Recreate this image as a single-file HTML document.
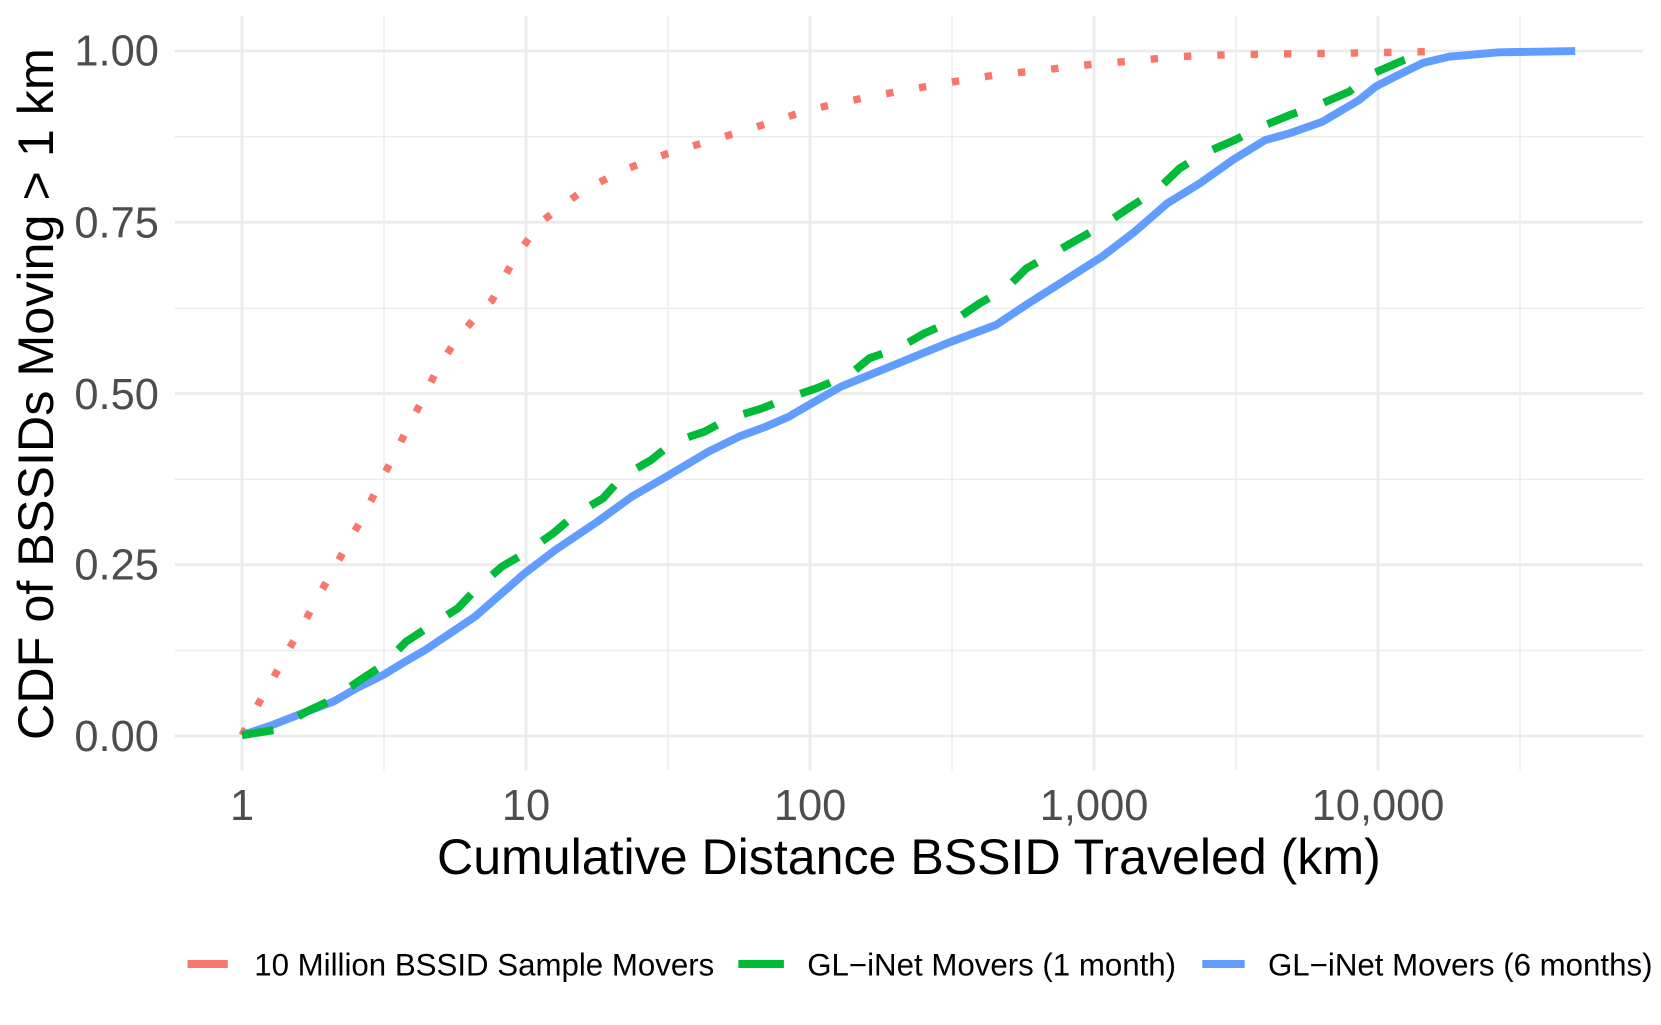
<!DOCTYPE html>
<html><head><meta charset="utf-8"><style>html,body{margin:0;padding:0;background:#fff}svg{display:block}</style></head>
<body>
<svg width="1661" height="1025" viewBox="0 0 1568 967.6" xmlns="http://www.w3.org/2000/svg" font-family="Liberation Sans, sans-serif">
<rect width="1568" height="967.6" fill="#fff"/>
<g stroke="#ebebeb" stroke-width="1.3">
<line x1="165" x2="1551" y1="129" y2="129"/><line x1="165" x2="1551" y1="291" y2="291"/>
<line x1="165" x2="1551" y1="452.5" y2="452.5"/><line x1="165" x2="1551" y1="614" y2="614"/>
<line x1="362.5" x2="362.5" y1="15" y2="727"/><line x1="630.6" x2="630.6" y1="15" y2="727"/>
<line x1="898.7" x2="898.7" y1="15" y2="727"/><line x1="1166.8" x2="1166.8" y1="15" y2="727"/>
<line x1="1434.9" x2="1434.9" y1="15" y2="727"/>
</g>
<g stroke="#ebebeb" stroke-width="2.6">
<line x1="165" x2="1551" y1="48.1" y2="48.1"/><line x1="165" x2="1551" y1="209.8" y2="209.8"/>
<line x1="165" x2="1551" y1="371.5" y2="371.5"/><line x1="165" x2="1551" y1="533.1" y2="533.1"/>
<line x1="165" x2="1551" y1="694.8" y2="694.8"/>
<line x1="228.5" x2="228.5" y1="15" y2="727"/><line x1="496.6" x2="496.6" y1="15" y2="727"/>
<line x1="764.7" x2="764.7" y1="15" y2="727"/><line x1="1032.8" x2="1032.8" y1="15" y2="727"/>
<line x1="1300.9" x2="1300.9" y1="15" y2="727"/>
</g>
<g fill="#4d4d4d" font-size="41" text-anchor="end">
<text x="150" y="62">1.00</text><text x="150" y="224">0.75</text><text x="150" y="386">0.50</text>
<text x="150" y="547">0.25</text><text x="150" y="709">0.00</text>
</g>
<g fill="#4d4d4d" font-size="41" text-anchor="middle">
<text x="228.5" y="774">1</text><text x="496.6" y="774">10</text><text x="764.7" y="774">100</text>
<text x="1032.8" y="774">1,000</text><text x="1300.9" y="774">10,000</text>
</g>
<text x="858" y="825" font-size="47.3" text-anchor="middle" fill="#000">Cumulative Distance BSSID Traveled (km)</text>
<text transform="translate(50,372) rotate(-90)" font-size="47.5" text-anchor="middle" fill="#000">CDF of BSSIDs Moving &gt; 1 km</text>
<g fill="none" stroke-linejoin="round">
<polyline stroke="#f8766d" stroke-width="7" stroke-dasharray="7 24.5" points="228.5,694 244.2,663.9 258.7,638.8 273.1,612 287.6,586.9 302,560.1 316.4,535 331,508.2 345.4,483 358.1,456.2 372.5,429.5 385.2,402.8 399.6,376 412.3,349.3 428.5,324.1 446.5,302.1 464.7,283.2 485,245 510,210 550,180 590,160 630,145 680,130 720,118 763,103.8 793.7,97 824.6,90.6 855.4,85 886.2,79.6 917,74.3 947.9,69.6 978.7,67 1009.5,63 1040.3,59.8 1073.1,57.3 1103.9,54.1 1136.7,52.2 1167.5,51.6 1200.2,51 1233,50.7 1263.9,50.3 1294.6,49.8 1327.4,49.1 1362,48.5"/>
<polyline stroke="#619cff" stroke-width="7.5" points="228.5,694 256.9,684.5 289.3,671.8 314.6,662.4 336.4,649.8 361.7,637.2 379.7,626.2 401.4,613.6 448.3,582.2 477.2,557 495.3,541.2 524.2,519.2 564,492.4 596.4,468.9 629,450 668.7,426.4 697.6,412.2 722.9,402.8 744.6,393.4 766.3,380.7 793.7,365 843.9,344.6 897.8,322.6 940.2,306.8 971,286.3 1005.7,264.3 1040.3,242.3 1071.2,218.7 1102,191.9 1132.8,173 1163.7,151 1194.5,132.2 1217.6,125.8 1248.4,114.9 1283.1,94.4 1298.5,81.8 1313.9,73.9 1343,59.5 1368,53.5 1415,49.4 1487,48.2"/>
<polyline stroke="#00ba38" stroke-width="7.5" stroke-dasharray="30 27" points="228.5,694 258.7,689.2 289.3,671.8 312.8,660.8 339.9,642 361.7,627.8 383.3,605.8 405,591.6 432.1,574.3 450.1,555.4 473.6,535 495.3,522.3 522.4,503.4 542.2,486.2 569.3,470.4 587.5,450 614.6,434.3 636.2,417 665.1,407.5 688.6,394.9 719.3,385.5 742.8,376 770.6,366.6 801.5,354 820.7,338.2 847.7,328.8 872.8,314.6 901.6,302.1 924.8,286.3 949.8,272.2 969,253.3 994.2,239.1 1019.2,225 1044.2,210.8 1067.3,195.1 1092.3,179.4 1113.6,158.9 1136.7,144.7 1165.6,132.2 1190.6,119.6 1217.6,108.6 1244.6,99.1 1273.5,86.6 1296.6,69.2 1325.5,56.6 1350,47.5"/>
</g>
<line x1="177" x2="215" y1="910" y2="910" stroke="#f8766d" stroke-width="7.5"/>
<line x1="697" x2="740" y1="910" y2="910" stroke="#00ba38" stroke-width="7.5"/>
<line x1="1135" x2="1175" y1="910" y2="910" stroke="#619cff" stroke-width="7.5"/>
<g font-size="29.5" fill="#000">
<text x="240" y="921">10 Million BSSID Sample Movers</text>
<text x="762" y="921">GL−iNet Movers (1 month)</text>
<text x="1197" y="921">GL−iNet Movers (6 months)</text>
</g>
</svg>
</body></html>
